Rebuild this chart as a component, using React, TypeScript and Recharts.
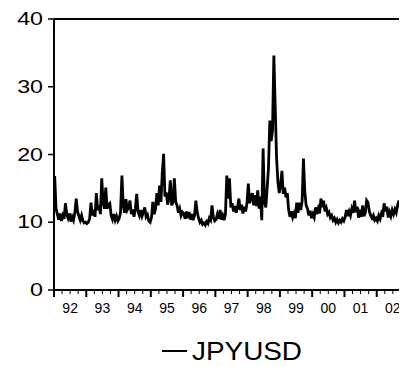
import React from "react";
import { LineChart, Line, XAxis, YAxis, ReferenceLine, Legend } from "recharts";

// Half-monthly readings (24 per year) of the JPYUSD series
const jpy1992 = [16.8, 12.0, 11.2, 10.4, 11.3, 10.2, 11.0, 10.5, 12.8, 11.2, 10.6, 11.3, 10.1, 10.8, 10.3, 11.4, 13.5, 11.6, 10.9, 10.3, 11.0, 10.2, 9.9, 10.0];
const jpy1993 = [9.8, 10.0, 10.5, 12.9, 11.0, 11.8, 10.8, 14.3, 11.8, 12.5, 11.2, 16.5, 13.0, 12.0, 15.1, 12.0, 12.6, 12.8, 11.0, 10.4, 11.2, 10.3, 10.9, 10.2];
const jpy1994 = [10.6, 11.5, 16.9, 12.5, 11.4, 13.4, 11.8, 12.2, 13.2, 11.2, 11.9, 10.8, 12.0, 14.2, 11.6, 11.0, 11.8, 10.9, 11.5, 12.2, 10.8, 11.1, 10.2, 10.0];
const jpy1995 = [10.7, 13.0, 11.2, 12.0, 14.3, 12.5, 15.4, 13.0, 17.2, 20.1, 13.8, 14.4, 12.6, 13.5, 16.2, 12.5, 13.0, 16.5, 13.0, 12.5, 11.4, 12.0, 11.0, 11.5];
const jpy1996 = [11.3, 10.5, 11.6, 10.6, 11.5, 10.4, 11.2, 10.3, 11.0, 13.2, 11.5, 10.6, 10.0, 10.3, 9.7, 9.9, 9.6, 10.1, 9.8, 10.6, 10.3, 12.5, 10.7, 10.2];
const jpy1997 = [10.4, 11.2, 10.5, 11.8, 10.4, 11.0, 10.3, 11.2, 16.9, 13.5, 16.5, 12.2, 12.8, 11.6, 12.4, 11.4, 12.2, 13.5, 11.8, 12.6, 11.3, 12.3, 11.6, 12.8];
const jpy1998 = [15.7, 12.8, 13.6, 14.3, 12.5, 14.0, 12.4, 14.7, 12.0, 13.8, 10.3, 20.9, 13.0, 12.2, 15.0, 18.0, 25.0, 22.0, 23.5, 34.6, 27.0, 19.6, 16.0, 14.3];
const jpy1999 = [15.5, 17.6, 14.2, 15.1, 13.7, 14.3, 11.8, 10.8, 11.6, 10.7, 11.3, 10.6, 12.9, 11.4, 12.9, 11.8, 13.0, 19.4, 14.5, 12.5, 12.0, 11.0, 11.7, 10.6];
const jpy2000 = [11.2, 10.7, 12.2, 11.2, 12.0, 11.3, 13.5, 12.2, 13.2, 11.6, 12.1, 11.2, 11.5, 10.7, 11.0, 10.3, 10.6, 10.0, 10.4, 9.9, 10.3, 10.0, 10.5, 10.2];
const jpy2001 = [10.8, 11.8, 10.9, 11.6, 11.0, 12.0, 11.4, 13.2, 11.5, 12.3, 10.7, 11.4, 10.8, 12.5, 10.9, 11.4, 13.2, 12.9, 11.6, 11.0, 10.6, 11.0, 10.3, 10.6];
const jpy2002 = [10.2, 11.0, 10.5, 11.3, 10.8, 12.8, 11.6, 12.3, 10.7, 11.5, 10.9, 11.8, 11.2, 11.9, 11.4, 12.5, 13.2, 12.2, 12.6, 11.6, 12.0, 11.3, 11.8, 11.4];

const years = [1992, 1993, 1994, 1995, 1996, 1997, 1998, 1999, 2000, 2001, 2002];
const yearLabels = ["92", "93", "94", "95", "96", "97", "98", "99", "00", "01", "02"];
const yTicks = [0, 10, 20, 30, 40];
const seriesName = "JPYUSD";

const byYear = [jpy1992, jpy1993, jpy1994, jpy1995, jpy1996, jpy1997, jpy1998, jpy1999, jpy2000, jpy2001, jpy2002];
const data = years.flatMap((yr, yi) =>
  byYear[yi].map((v, k) => ({ t: yr + (k + 0.5) / byYear[yi].length, v }))
);
const xTicks = years.flatMap((yr) => [yr, yr + 0.25, yr + 0.5, yr + 0.75]);

const FONT = '"Liberation Sans", Arial, sans-serif';

const XTick = (props: any) => {
  const { x, y, payload } = props;
  const val = payload.value as number;
  const yr = Math.floor(val + 1e-6);
  const frac = Math.round((val - yr) * 4) / 4;
  const major = frac === 0;
  const label = frac === 0.5 ? yearLabels[yr - years[0]] : null;
  return (
    <g>
      <line x1={x} x2={x} y1={y} y2={y + (major ? 7 : 4)} stroke="#000" strokeWidth={major ? 2 : 1} />
      {label && (
        <text x={x} y={y + 22.5} textAnchor="middle" fontSize={14} fontFamily={FONT} fill="#000">
          {label}
        </text>
      )}
    </g>
  );
};

const YTick = (props: any) => {
  const { x, y, payload } = props;
  return (
    <g>
      <line x1={x - 6} x2={x} y1={y} y2={y} stroke="#000" strokeWidth={1.5} />
      <text
        transform={`translate(${x - 11},${y + 6}) scale(1.25,1)`}
        textAnchor="end"
        fontSize={18.6}
        fontFamily={FONT}
        fill="#000"
      >
        {payload.value}
      </text>
    </g>
  );
};

const LegendContent = () => (
  <svg width={399} height={33} style={{ display: "block" }}>
    <line x1={154} x2={179} y1={18} y2={18} stroke="#000" strokeWidth={2} />
    <text x={184} y={27} fontSize={25} fontFamily={FONT} fill="#000" textLength={110} lengthAdjust="spacingAndGlyphs">
      {seriesName}
    </text>
  </svg>
);

export default function App() {
  return (
    <div style={{ width: 399, height: 358, overflow: "hidden", position: "relative" }}>
      <LineChart width={401} height={357} data={data} margin={{ top: 11, right: 0, bottom: 45, left: 0 }}>
        <XAxis
          dataKey="t"
          type="number"
          domain={[1992, 2003]}
          ticks={xTicks}
          interval={0}
          tick={<XTick />}
          tickLine={false}
          tickSize={0}
          tickMargin={0}
          height={30}
          axisLine={{ stroke: "#000", strokeWidth: 2 }}
          allowDataOverflow
        />
        <YAxis
          type="number"
          domain={[0, 40]}
          ticks={yTicks}
          interval={0}
          tick={<YTick />}
          tickLine={false}
          tickSize={0}
          tickMargin={0}
          width={46}
          axisLine={{ stroke: "#000", strokeWidth: 2 }}
        />
        <ReferenceLine y={40} stroke="#000" strokeWidth={2} ifOverflow="visible" />
        <Line
          type="linear"
          dataKey="v"
          name={seriesName}
          stroke="#000"
          strokeWidth={2.8}
          dot={false}
          isAnimationActive={false}
        />
        <Legend
          layout="horizontal"
          verticalAlign="middle"
          align="center"
          content={<LegendContent />}
          wrapperStyle={{ position: "absolute", left: 0, top: 325, width: 399, height: 33 }}
        />
      </LineChart>
    </div>
  );
}
